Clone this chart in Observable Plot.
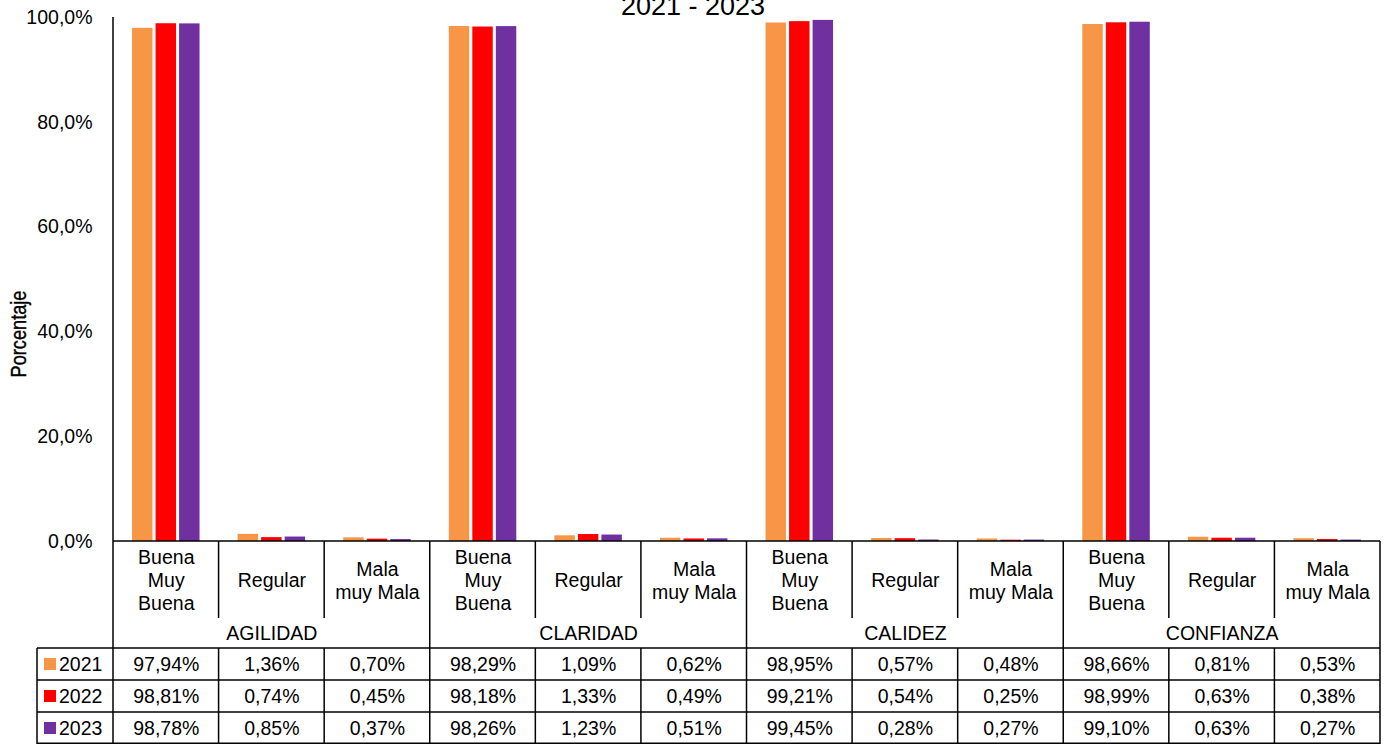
<!DOCTYPE html>
<html>
<head>
<meta charset="utf-8">
<script src="https://cdn.jsdelivr.net/npm/d3@7"></script>
<script src="https://cdn.jsdelivr.net/npm/@observablehq/plot@0.6"></script>
<style>
  html, body { margin: 0; padding: 0; background: #fff; }
  svg { display: block; }
</style>
</head>
<body>
<div id="chart"></div>
<script>
const groups = ["AGILIDAD", "CLARIDAD", "CALIDEZ", "CONFIANZA"];
const ratings = ["Buena Muy Buena", "Regular", "Mala muy Mala"];
const ratingLabels = ["Buena\nMuy\nBuena", "Regular", "Mala\nmuy Mala"];
const years = ["2021", "2022", "2023"];
const colors = ["#F79646", "#FF0000", "#7030A0"];
const values2021 = [97.94, 1.36, 0.70, 98.29, 1.09, 0.62, 98.95, 0.57, 0.48, 98.66, 0.81, 0.53];
const values2022 = [98.81, 0.74, 0.45, 98.18, 1.33, 0.49, 99.21, 0.54, 0.25, 98.99, 0.63, 0.38];
const values2023 = [98.78, 0.85, 0.37, 98.26, 1.23, 0.51, 99.45, 0.28, 0.27, 99.10, 0.63, 0.27];
const yTicks = [0, 20, 40, 60, 80, 100];
const titleText = "2021 - 2023";
const yLabel = "Porcentaje";

const series = [values2021, values2022, values2023];
const cols = groups.flatMap(g => ratings.map(r => g + "|" + r));
const colInfo = cols.map((c, i) => ({col: c, label: ratingLabels[i % 3], group: groups[Math.floor(i / 3)], idx: i}));
const rows = cols.flatMap((c, i) => years.map((y, j) => ({col: c, year: y, value: series[j][i]})));
const pct = v => v.toFixed(2).replace(".", ",") + "%";
const FONT = "'Liberation Sans', Arial, Helvetica, sans-serif";
const FS = 19.5;
const rowDy = [123, 155, 187];

const W = 1386, H = 744, MT = 17, MB = 203, ML = 113, MR = 6;

const plot = Plot.plot({
  width: W, height: H,
  marginTop: MT, marginBottom: MB, marginLeft: ML, marginRight: MR,
  style: {fontFamily: FONT, fontSize: FS + "px", color: "#000", background: "#fff", overflow: "visible"},
  fx: {domain: cols, padding: 0, round: false, axis: null},
  x: {domain: years, paddingInner: 0.13, paddingOuter: 0.81, round: false, axis: null},
  y: {domain: [0, 100], axis: null},
  color: {domain: years, range: colors},
  marks: [
    Plot.barY(rows, {fx: "col", x: "year", y: "value", fill: "year"}),
    Plot.axisY({ticks: yTicks, tickFormat: d => d.toFixed(1).replace(".", ",") + "%", tickSize: 0, tickPadding: 21, label: null, fontSize: FS}),
    Plot.text(colInfo, {fx: "col", text: "label", frameAnchor: "bottom", lineAnchor: "middle", dy: 38.5, lineHeight: 1.18, fontSize: FS, fill: "#000"}),
    Plot.text(colInfo.filter(d => d.idx % 3 === 1), {fx: "col", text: "group", frameAnchor: "bottom", lineAnchor: "middle", dy: 92, fontSize: FS, fill: "#000"}),
    ...years.map((y, j) => Plot.text(rows.filter(r => r.year === y), {fx: "col", text: d => pct(d.value), frameAnchor: "bottom", lineAnchor: "middle", dy: rowDy[j], fontSize: FS, fill: "#000"}))
  ]
});

document.getElementById("chart").appendChild(plot);

// Table grid, legend column, title and y label using Plot's fx scale
const fx = plot.scale("fx");
const bw = fx.bandwidth;
const left = fx.apply(cols[0]);
const right = fx.apply(cols[cols.length - 1]) + bw;
const svg = d3.select(plot);
const g = svg.append("g").attr("stroke", "#000").attr("stroke-width", 1.5);
const yBase = H - MB;          // 541
const yCatEnd = yBase + 77;    // 618
const yRows = [yBase + 107, yBase + 139, yBase + 171, H - 0.75];
const legendLeft = 37;

// y axis line
g.append("line").attr("x1", left).attr("x2", left).attr("y1", MT).attr("y2", H);
// top line of table
g.append("line").attr("x1", left).attr("x2", right).attr("y1", yBase).attr("y2", yBase);
// row lines
yRows.forEach(y => g.append("line").attr("x1", legendLeft).attr("x2", right).attr("y1", y).attr("y2", y));
// legend left border
g.append("line").attr("x1", legendLeft).attr("x2", legendLeft).attr("y1", yRows[0]).attr("y2", H);
// column boundaries
for (let i = 1; i <= cols.length; i++) {
  const x = i < cols.length ? fx.apply(cols[i]) : right;
  if (i % 3 === 0) {
    g.append("line").attr("x1", x).attr("x2", x).attr("y1", yBase).attr("y2", H);
  } else {
    g.append("line").attr("x1", x).attr("x2", x).attr("y1", yBase).attr("y2", yCatEnd);
    g.append("line").attr("x1", x).attr("x2", x).attr("y1", yRows[0]).attr("y2", H);
  }
}
// legend keys
const lg = svg.append("g").attr("font-family", FONT).attr("font-size", FS).attr("text-anchor", "start");
years.forEach((y, j) => {
  const cy = yBase + rowDy[j];
  lg.append("rect").attr("x", 44).attr("y", cy - 6).attr("width", 12).attr("height", 12).attr("fill", colors[j]);
  lg.append("text").attr("x", 59).attr("y", cy).attr("dy", "0.35em").attr("fill", "#000").text(y);
});
// title (partially cut off at top as in reference)
svg.append("text").attr("x", W / 2).attr("y", 15).attr("text-anchor", "middle")
  .attr("font-family", FONT).attr("font-size", 27).attr("fill", "#000").text(titleText);
// y label
svg.append("text").attr("transform", `translate(18,334) rotate(-90)`)
  .attr("text-anchor", "middle").attr("dy", "0.35em")
  .attr("font-family", FONT).attr("font-size", 22).attr("fill", "#000")
  .attr("stroke", "#000").attr("stroke-width", 0.4)
  .attr("textLength", 87).attr("lengthAdjust", "spacingAndGlyphs").text(yLabel);
</script>
</body>
</html>
